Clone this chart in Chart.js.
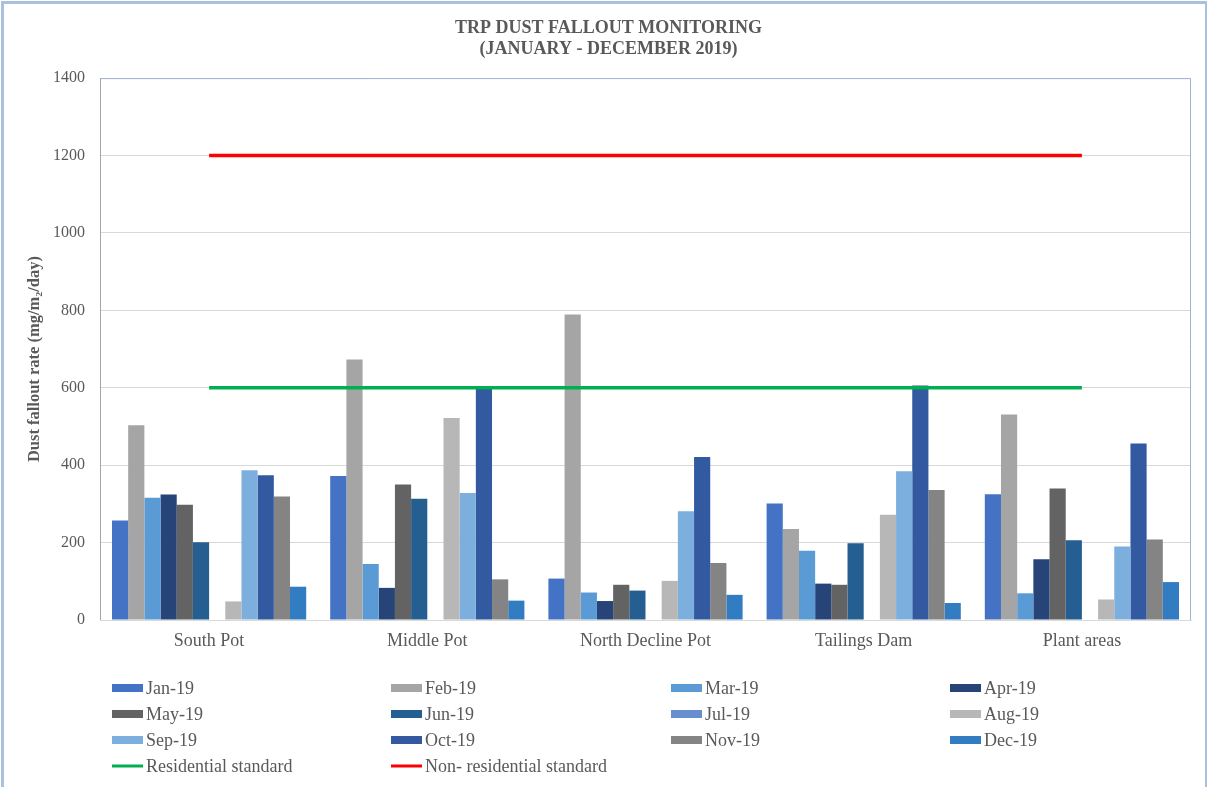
<!DOCTYPE html>
<html>
<head>
<meta charset="utf-8">
<script src="https://cdn.jsdelivr.net/npm/chart.js@4/dist/chart.umd.min.js"></script>
<style>
  html, body { margin: 0; padding: 0; background: #fff; }
  #wrap { width: 1207px; height: 787px; position: relative; }
  canvas { display: block; }
</style>
</head>
<body>
<div id="wrap"><canvas id="c" width="1207" height="787"></canvas></div>
<script>
// Monitoring sites (x categories)
const sites = ['South Pot', 'Middle Pot', 'North Decline Pot', 'Tailings Dam', 'Plant areas'];

// Monthly dust fallout rate, mg/m2/day, one value per site
const jan19 = [257, 372, 107, 301, 325];
const feb19 = [503, 673, 789, 235, 531];
const mar19 = [316, 145, 71, 179, 69];
const apr19 = [324, 83, 49, 94, 157];
const may19 = [298, 350, 91, 91, 340];
const jun19 = [201, 313, 76, 198, 206];
const jul19 = [null, null, null, null, null];
const aug19 = [48, 522, 101, 272, 53];
const sep19 = [387, 328, 281, 384, 190];
const oct19 = [374, 598, 421, 606, 456];
const nov19 = [319, 105, 147, 336, 208];
const dec19 = [86, 50, 65, 44, 98];

// Dust fallout standards
const residentialStandard = [600, 600, 600, 600, 600];
const nonResidentialStandard = [1200, 1200, 1200, 1200, 1200];

// Y axis ticks
const yTicks = [0, 200, 400, 600, 800, 1000, 1200, 1400];

const monthSeries = [
  ['Jan-19', jan19, '#4472C4'],
  ['Feb-19', feb19, '#A5A5A5'],
  ['Mar-19', mar19, '#5B9BD5'],
  ['Apr-19', apr19, '#264478'],
  ['May-19', may19, '#636363'],
  ['Jun-19', jun19, '#255E91'],
  ['Jul-19', jul19, '#698ED0'],
  ['Aug-19', aug19, '#B7B7B7'],
  ['Sep-19', sep19, '#7CAFDD'],
  ['Oct-19', oct19, '#335AA1'],
  ['Nov-19', nov19, '#848484'],
  ['Dec-19', dec19, '#327DC2']
];

const serif = '"Liberation Serif", "Times New Roman", serif';
const textGrey = '#595959';
const yTitle = 'Dust fallout rate (mg/m\u2082/day)';

const datasets = monthSeries.map(([label, data, color]) => ({
  type: 'bar',
  label,
  data,
  backgroundColor: color,
  borderWidth: 0,
  order: 2
}));

datasets.push({
  type: 'line',
  label: 'Residential standard',
  data: residentialStandard,
  borderColor: '#00B050',
  backgroundColor: '#00B050',
  borderWidth: 3.5,
  pointRadius: 0,
  fill: false,
  order: 1
});
datasets.push({
  type: 'line',
  label: 'Non- residential standard',
  data: nonResidentialStandard,
  borderColor: '#FF0000',
  backgroundColor: '#FF0000',
  borderWidth: 3.5,
  pointRadius: 0,
  fill: false,
  order: 1
});

// Page frame, plot outline and the rotated value-axis caption
const framePlugin = {
  id: 'frame',
  beforeDraw(chart) {
    const ctx = chart.ctx;
    ctx.save();
    ctx.fillStyle = '#fff';
    ctx.fillRect(0, 0, chart.width, chart.height);
    ctx.strokeStyle = '#A9C1DD';
    ctx.lineWidth = 3;
    ctx.strokeRect(2.5, 2.5, chart.width - 3, chart.height + 10);
    ctx.restore();
  },
  afterDatasetsDraw(chart) {
    const { ctx, chartArea: a } = chart;
    ctx.save();
    ctx.strokeStyle = '#9FB2D6';
    ctx.lineWidth = 1;
    ctx.beginPath();
    ctx.moveTo(a.left, a.top + 0.5);
    ctx.lineTo(a.right - 0.5, a.top + 0.5);
    ctx.lineTo(a.right - 0.5, a.bottom);
    ctx.stroke();
    ctx.strokeStyle = '#A6A6A6';
    ctx.beginPath();
    ctx.moveTo(a.left + 0.5, a.top);
    ctx.lineTo(a.left + 0.5, a.bottom);
    ctx.stroke();

    ctx.translate(35, (a.top + a.bottom) / 2 + 10);
    ctx.rotate(-Math.PI / 2);
    ctx.font = 'bold 16.5px ' + serif;
    ctx.fillStyle = textGrey;
    ctx.textAlign = 'center';
    ctx.textBaseline = 'middle';
    ctx.fillText(yTitle, 0, 0);
    ctx.restore();
  }
};

// Four-column legend under the plot
const gridLegend = {
  id: 'gridLegend',
  afterDraw(chart) {
    const ctx = chart.ctx;
    const colX = [112, 391, 671, 950];
    const rowY = [688, 714, 740, 766];
    ctx.save();
    ctx.font = '18px ' + serif;
    ctx.textBaseline = 'middle';
    ctx.textAlign = 'left';
    chart.data.datasets.forEach((ds, i) => {
      const x = colX[i % 4];
      const y = rowY[Math.floor(i / 4)];
      if (ds.type === 'line') {
        ctx.strokeStyle = ds.borderColor;
        ctx.lineWidth = 3;
        ctx.beginPath();
        ctx.moveTo(x, y);
        ctx.lineTo(x + 31, y);
        ctx.stroke();
      } else {
        ctx.fillStyle = ds.backgroundColor;
        ctx.fillRect(x, y - 4, 31, 8);
      }
      ctx.fillStyle = textGrey;
      ctx.fillText(ds.label, x + 34, y + 1);
    });
    ctx.restore();
  }
};

new Chart(document.getElementById('c'), {
  data: { labels: sites, datasets },
  plugins: [framePlugin, gridLegend],
  options: {
    responsive: false,
    animation: false,
    datasets: {
      bar: { categoryPercentage: 0.89, barPercentage: 1.0 }
    },
    layout: { padding: { left: 26, right: 16, top: 0, bottom: 127 } },
    plugins: {
      legend: { display: false },
      tooltip: { enabled: false },
      title: {
        display: true,
        text: ['TRP DUST FALLOUT MONITORING', '(JANUARY - DECEMBER 2019)'],
        color: textGrey,
        font: { family: serif, size: 18, weight: 'bold', lineHeight: 1.17 },
        padding: { top: 18, bottom: 18 }
      }
    },
    scales: {
      x: {
        grid: { display: false, drawTicks: false },
        border: { display: true, color: '#D9D9D9' },
        ticks: { color: textGrey, font: { family: serif, size: 18 }, padding: 10 },
        afterFit(s) { s.height = 40; }
      },
      y: {
        min: 0,
        max: 1400,
        afterBuildTicks(s) { s.ticks = yTicks.map(v => ({ value: v })); },
        grid: { color: '#D9D9D9', drawTicks: false },
        border: { display: false },
        ticks: {
          color: textGrey,
          font: { family: serif, size: 16 },
          padding: 15,
          callback: v => String(v)
        },
        afterFit(s) { s.width = 74; }
      }
    }
  }
});
</script>
</body>
</html>
